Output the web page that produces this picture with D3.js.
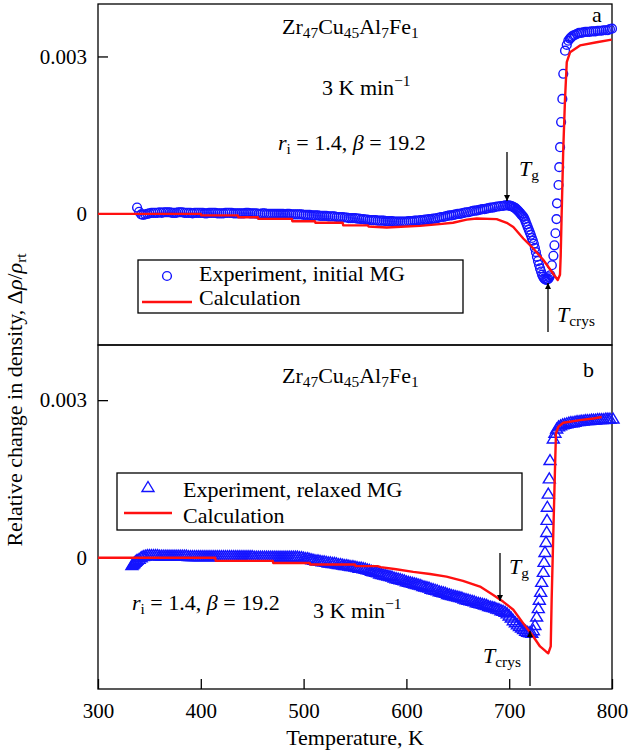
<!DOCTYPE html>
<meta charset="utf-8">
<script src="https://cdn.jsdelivr.net/npm/d3@7"></script>
<style>
  body { margin: 0; background: #fff; }
</style>
<svg id="chart" width="629" height="756"></svg>
<script>
// ---- data (T in K, relative density change) ----
var expInitial = [
  [338,0.00012],[340,0.00004],[342,-0.00001],[344,-0.00002],[346,-0.00001],[348,0],[350,0.00001],[352,0.00002],
  [354,0.00002],[356,0.00002],[358,0.00002],[360,0.00003],[362,0.00002],[364,0.00003],[366,0.00003],[368,0.00003],
  [370,0.00003],[372,0.00002],[374,0.00002],[376,0.00002],[378,0.00003],[380,0.00003],[382,0.00003],[384,0.00002],
  [386,0.00002],[388,0.00002],[390,0.00002],[392,0.00001],[394,0.00002],[396,0.00002],[398,0.00002],[400,0.00002],
  [402,0.00002],[404,0.00001],[406,0.00001],[408,0.00002],[410,0.00002],[412,0.00002],[414,0.00002],[416,0.00001],
  [418,0.00001],[420,0.00001],[422,0.00001],[424,0.00002],[426,0.00002],[428,0.00002],[430,0.00002],[432,0.00001],
  [434,0.00001],[436,0.00001],[438,0.00001],[440,0.00001],[442,0.00001],[444,0.00002],[446,0.00002],[448,0.00001],
  [450,0.00001],[452,0.00001],[454,0.00001],[456,0],[458,0],[460,0.00001],[462,0.00001],[464,0],[466,0],[468,0],
  [470,0],[472,0],[474,0],[476,0],[478,0],[480,0],[482,-0.00001],[484,0],[486,0],[488,-0.00001],[490,-0.00001],
  [492,-0.00001],[494,-0.00001],[496,-0.00001],[498,-0.00001],[500,-0.00002],[502,-0.00002],[504,-0.00002],
  [506,-0.00002],[508,-0.00003],[510,-0.00003],[512,-0.00003],[514,-0.00003],[516,-0.00004],[518,-0.00004],
  [520,-0.00004],[522,-0.00004],[524,-0.00005],[526,-0.00005],[528,-0.00005],[530,-0.00005],[532,-0.00006],
  [534,-0.00006],[536,-0.00006],[538,-0.00006],[540,-0.00007],[542,-0.00007],[544,-0.00008],[546,-0.00008],
  [548,-0.00008],[550,-0.00008],[552,-0.00009],[554,-0.00009],[556,-0.0001],[558,-0.0001],[560,-0.00011],
  [562,-0.00011],[564,-0.00012],[566,-0.00012],[568,-0.00012],[570,-0.00012],[572,-0.00013],[574,-0.00013],
  [576,-0.00013],[578,-0.00013],[580,-0.00014],[582,-0.00014],[584,-0.00014],[586,-0.00014],[588,-0.00015],
  [590,-0.00015],[592,-0.00015],[594,-0.00015],[596,-0.00015],[598,-0.00015],[600,-0.00015],[602,-0.00014],
  [604,-0.00014],[606,-0.00014],[608,-0.00013],[610,-0.00013],[612,-0.00013],[614,-0.00012],[616,-0.00012],
  [618,-0.00011],[620,-0.00011],[622,-0.0001],[624,-0.0001],[626,-0.00009],[628,-0.00009],[630,-0.00008],
  [632,-0.00007],[634,-0.00006],[636,-0.00006],[638,-0.00005],[640,-0.00004],[642,-0.00003],[644,-0.00003],
  [646,-0.00002],[648,-0.00001],[650,0],[652,0],[654,0.00001],[656,0.00002],[658,0.00003],[660,0.00003],
  [662,0.00004],[664,0.00005],[666,0.00006],[668,0.00006],[670,0.00007],[672,0.00008],[674,0.00009],
  [676,0.00009],[678,0.0001],[680,0.00011],[682,0.00012],[684,0.00012],[686,0.00013],[688,0.00014],
  [690,0.00014],[692,0.00015],[694,0.00015],[696,0.00016],[698,0.00016],[700,0.00016],[701,0.00015],
  [702,0.00015],[703,0.00014],[704,0.00013],[705,0.00012],[706,0.00011],[707,0.00009],[708,0.00007],
  [709,0.00005],[710,0.00003],[711,0.00001],[712,-0.00002],[713,-0.00004],[714,-0.00006],[715,-0.0001],
  [716,-0.00015],[717,-0.0002],[718,-0.00025],[719,-0.0003],[720,-0.00035],[721,-0.0004],[722,-0.00046],
  [723,-0.00051],[724,-0.00057],[725,-0.00065],[726,-0.00073],[727,-0.00082],[728,-0.0009],[729,-0.00097],
  [730,-0.00104],[731,-0.0011],[732,-0.00116],[733,-0.0012],[734,-0.00123],[735,-0.00125],[736,-0.00126],
  [737,-0.00125],[738,-0.00124],[739,-0.00121],[740,-0.00117],[741.5,-0.00098],[743,-0.0008],[744,-0.0006],
  [745,-0.00037],[746,-0.0001],[746.5,0.0002],[748,0.00055],[748.7,0.00089],[749.5,0.00127],[750.5,0.00175],
  [751.7,0.00219],[752.6,0.00267],[754.3,0.00311],[756,0.00322],[757.5,0.0033],[759,0.00334],[760,0.00336],
  [761,0.00338],[762.4,0.0034],[764,0.00341],[766,0.00343],[768,0.00345],[770,0.00345],[772,0.00346],
  [774,0.00347],[776,0.00347],[778,0.00347],[780,0.00348],[782,0.00348],[784,0.00348],[786,0.00349],
  [788,0.00349],[790,0.00349],[792,0.0035],[794,0.0035],[796,0.0035],[798,0.00352],[800,0.00353]
];

var calcInitial = [
  [300, 0], [400, 0], [400.5, -0.00003], [436, -0.00003], [436.5, -0.000065], [455.6, -0.000065],
  [456, -0.000095], [488.7, -0.000095], [489, -0.00014], [511, -0.00014], [511.5, -0.00017],
  [538, -0.00017], [538.5, -0.00022], [562.6, -0.00022], [563, -0.00024], [580.8, -0.00026],
  [613.2, -0.00023], [629.5, -0.0002], [645.3, -0.00017], [658.7, -0.00011], [668.4, -0.00009],
  [687.8, -0.0001], [697.6, -0.00017], [704, -0.00025], [713.7, -0.00047], [723.4, -0.00066],
  [733.2, -0.00088], [741.3, -0.0011], [747.2, -0.00126], [749.4, -0.00116], [750.1, -0.0008],
  [751, -0.00003], [752.6, 0.00124], [754.3, 0.00219], [756, 0.00289], [759.2, 0.00308],
  [768.9, 0.00321], [785.1, 0.00327], [799.7, 0.00332]
];

var expRelaxed = [
  [333,-0.00014],[334,-0.00012],[335,-0.0001],[336,-0.00008],[337,-0.00006],[338,-0.00004],[340,-0.00002],
  [342,0.00001],[344,0.00003],[346,0.00004],[348,0.00005],[350,0.00005],[352,0.00005],[354,0.00005],
  [356,0.00005],[358,0.00005],[360,0.00004],[362,0.00004],[364,0.00004],[366,0.00004],[368,0.00004],
  [370,0.00004],[372,0.00004],[374,0.00004],[376,0.00004],[378,0.00004],[380,0.00004],[382,0.00004],
  [384,0.00004],[386,0.00004],[388,0.00003],[390,0.00003],[392,0.00003],[394,0.00003],[396,0.00003],
  [398,0.00003],[400,0.00003],[402,0.00003],[404,0.00003],[406,0.00003],[408,0.00003],[410,0.00003],
  [412,0.00003],[414,0.00003],[416,0.00003],[418,0.00003],[420,0.00003],[422,0.00003],[424,0.00003],
  [426,0.00003],[428,0.00003],[430,0.00003],[432,0.00003],[434,0.00003],[436,0.00003],[438,0.00003],
  [440,0.00003],[442,0.00003],[444,0.00003],[446,0.00003],[448,0.00003],[450,0.00003],[452,0.00002],
  [454,0.00002],[456,0.00002],[458,0.00002],[460,0.00002],[462,0.00002],[464,0.00002],[466,0.00002],
  [468,0.00002],[470,0.00002],[472,0.00002],[474,0.00002],[476,0.00002],[478,0.00002],[480,0.00002],
  [482,0.00002],[484,0.00002],[486,0.00002],[488,0.00002],[490,0.00002],[492,0.00002],[494,0.00002],
  [496,0.00001],[498,0.00001],[500,0],[502,-0.00001],[504,-0.00001],[506,-0.00002],[508,-0.00003],
  [510,-0.00004],[512,-0.00005],[514,-0.00005],[516,-0.00006],[518,-0.00007],[520,-0.00007],[522,-0.00008],
  [524,-0.00009],[526,-0.00009],[528,-0.0001],[530,-0.0001],[532,-0.00011],[534,-0.00012],[536,-0.00012],
  [538,-0.00013],[540,-0.00014],[542,-0.00014],[544,-0.00015],[546,-0.00016],[548,-0.00016],[550,-0.00017],
  [552,-0.00018],[554,-0.00019],[556,-0.00019],[558,-0.0002],[560,-0.00021],[562,-0.00022],[564,-0.00023],
  [566,-0.00025],[568,-0.00026],[570,-0.00027],[572,-0.00028],[574,-0.0003],[576,-0.00031],[578,-0.00032],
  [580,-0.00033],[582,-0.00034],[584,-0.00035],[586,-0.00036],[588,-0.00038],[590,-0.00039],[592,-0.0004],
  [594,-0.00041],[596,-0.00042],[598,-0.00043],[600,-0.00045],[602,-0.00046],[604,-0.00047],[606,-0.00048],
  [608,-0.00049],[610,-0.0005],[612,-0.00051],[614,-0.00052],[616,-0.00054],[618,-0.00055],[620,-0.00056],
  [622,-0.00057],[624,-0.00059],[626,-0.0006],[628,-0.00061],[630,-0.00062],[632,-0.00064],[634,-0.00065],
  [636,-0.00066],[638,-0.00067],[640,-0.00069],[642,-0.0007],[644,-0.00071],[646,-0.00072],[648,-0.00073],
  [650,-0.00074],[652,-0.00075],[654,-0.00076],[656,-0.00078],[658,-0.00079],[660,-0.0008],[662,-0.00081],
  [664,-0.00082],[666,-0.00083],[668,-0.00085],[670,-0.00086],[672,-0.00087],[674,-0.00088],[676,-0.00089],
  [678,-0.0009],[680,-0.00092],[682,-0.00093],[684,-0.00094],[686,-0.00095],[688,-0.00097],[690,-0.00098],
  [692,-0.001],[694,-0.00101],[696,-0.00103],[698,-0.00106],[700,-0.0011],[702,-0.00114],[704,-0.00119],
  [706,-0.00123],[708,-0.00127],[710,-0.0013],[712,-0.00133],[714,-0.00136],[716,-0.00139],[718,-0.00141],
  [720,-0.00142],[722,-0.00143],[723.5,-0.00138],[725,-0.00128],[726.7,-0.00112],[728.3,-0.00096],
  [729.3,-0.0008],[730.6,-0.00065],[731.6,-0.00046],[733.2,-0.00027],[733.9,-0.00008],[734.8,0.00011],
  [735.8,0.0003],[736.5,0.00049],[736.8,0.00072],[737.1,0.00097],[738,0.00122],[739,0.00151],
  [739.7,0.00186],[742.9,0.00227],[744.5,0.00238],[746.2,0.00246],[748,0.0025],[750,0.00252],[752,0.00254],
  [754,0.00255],[756,0.00256],[758,0.00257],[760,0.00258],[762,0.00258],[764,0.00259],[766,0.0026],
  [768,0.0026],[770,0.00261],[772,0.00261],[774,0.00262],[776,0.00262],[778,0.00262],[780,0.00263],
  [782,0.00263],[784,0.00263],[786,0.00264],[788,0.00264],[790,0.00264],[792,0.00264],[794,0.00265],
  [796,0.00265],[798,0.00265],[801,0.00265]
];

var calcRelaxed = [
  [300, 0], [414, 0], [414.5, -0.00006], [470, -0.00006], [470.5, -0.0001], [506, -0.0001],
  [506.5, -0.00013], [550, -0.00013], [550.5, -0.00016], [572, -0.00016], [575, -0.00018],
  [590, -0.00022], [606.7, -0.00027], [623, -0.00031], [639, -0.00036], [655, -0.00044],
  [671.6, -0.00055], [684.5, -0.00071], [694.3, -0.00084], [704, -0.00099], [713.7, -0.00125],
  [723.4, -0.0015], [730, -0.00169], [736, -0.00179], [738, -0.00182], [740.4, -0.00169],
  [741.3, -0.0008], [742.9, 0.00046], [744.6, 0.00173], [745.5, 0.00237], [747.8, 0.00249],
  [752.6, 0.00257], [768.9, 0.00262], [781.8, 0.00265], [790, 0.00268]
];

var xTicks = [300, 400, 500, 600, 700, 800];
var yTicks = [0, 0.003];

var BLUE = "#1414ff", RED = "#ff1010";
var FS = 22, TICK_FS = 21;
var FONT = "Liberation Serif";
var TRI = "M0,-5.5L6,4.5L-6,4.5Z";

var svg = d3.select("#chart");

svg.append("defs").append("marker")
    .attr("id", "head")
    .attr("viewBox", "0 0 10 10")
    .attr("refX", 10).attr("refY", 5)
    .attr("markerWidth", 11).attr("markerHeight", 6)
    .attr("markerUnits", "userSpaceOnUse")
    .attr("orient", "auto")
  .append("path")
    .attr("d", "M0,0L10,5L0,10Z")
    .attr("fill", "#000");

var x = d3.scaleLinear().domain([300, 800]).range([98, 612]);

// text with italic / sub / sup runs
function rich(sel, px, py, parts, size) {
  size = size || FS;
  var t = sel.append("text").attr("x", px).attr("y", py)
      .style("font-family", FONT).style("font-size", size + "px").attr("fill", "#000");
  var shift = 0;
  parts.forEach(function(p) {
    var s = typeof p === "string" ? p : p[0];
    var k = typeof p === "string" ? "" : p[1];
    var ts = t.append("tspan").text(s);
    var target = 0;
    if (k === "sub") { ts.style("font-size", (size * 0.7) + "px"); target = size * 0.2; }
    if (k === "sup") { ts.style("font-size", (size * 0.7) + "px"); target = -size * 0.4; }
    if (k === "i") ts.style("font-style", "italic");
    if (target !== shift) { ts.attr("dy", target - shift); shift = target; }
  });
  return t;
}

function arrow(sel, ax, y1, y2) {
  sel.append("line")
      .attr("x1", ax).attr("x2", ax).attr("y1", y1).attr("y2", y2)
      .attr("stroke", "#000").attr("stroke-width", 1.3)
      .attr("marker-end", "url(#head)");
}

var formula = ["Zr", ["47", "sub"], "Cu", ["45", "sub"], "Al", ["7", "sub"], "Fe", ["1", "sub"]];
var rate = ["3 K min", ["\u22121", "sup"]];
var params = [["r", "i"], ["i", "sub"], " = 1.4, ", ["\u03b2", "i"], " = 19.2"];

function drawPanel(cfg) {
  var y = d3.scaleLinear().domain(cfg.yDomain).range([cfg.bottom, cfg.top]);
  var g = svg.append("g");

  g.append("rect")
      .attr("x", 98).attr("y", cfg.top)
      .attr("width", 612 - 98).attr("height", cfg.bottom - cfg.top)
      .attr("fill", "none").attr("stroke", "#000").attr("stroke-width", 1.3);

  var yAxis = g.append("g")
      .attr("transform", "translate(98,0)")
      .call(d3.axisLeft(y).tickValues(yTicks).tickSize(-10).tickPadding(11)
        .tickFormat(function(d) { return d === 0 ? "0" : d3.format(".3f")(d); }));
  yAxis.select(".domain").remove();
  yAxis.selectAll("line").attr("stroke-width", 1.3);
  yAxis.selectAll("text").style("font-size", TICK_FS + "px").style("font-family", FONT);

  if (cfg.xAxis) {
    var xAxis = g.append("g")
        .attr("transform", "translate(0," + cfg.bottom + ")")
        .call(d3.axisBottom(x).tickValues(xTicks).tickSize(-10).tickPadding(14));
    xAxis.select(".domain").remove();
    xAxis.selectAll("line").attr("stroke-width", 1.3);
    xAxis.selectAll("text").style("font-size", TICK_FS + "px").style("font-family", FONT);
  }

  var line = d3.line().x(function(d) { return x(d[0]); }).y(function(d) { return y(d[1]); });

  // experiment markers
  var pts = g.append("g");
  if (cfg.marker === "circle") {
    pts.selectAll("circle").data(cfg.exp).enter().append("circle")
        .attr("cx", function(d) { return x(d[0]); })
        .attr("cy", function(d) { return y(d[1]); })
        .attr("r", 4.4)
        .attr("fill", "none").attr("stroke", BLUE).attr("stroke-width", 1.4);
  } else {
    pts.selectAll("path").data(cfg.exp).enter().append("path")
        .attr("d", TRI)
        .attr("transform", function(d) { return "translate(" + x(d[0]) + "," + y(d[1]) + ")"; })
        .attr("fill", "none").attr("stroke", BLUE).attr("stroke-width", 1.4);
  }

  g.append("path").datum(cfg.calc)
      .attr("d", line)
      .attr("fill", "none").attr("stroke", RED).attr("stroke-width", 2.4)
      .attr("stroke-linejoin", "round");

  // legend
  var L = cfg.legend;
  g.append("rect")
      .attr("x", L.x).attr("y", L.y).attr("width", L.w).attr("height", L.h)
      .attr("fill", "#fff").attr("stroke", "#000").attr("stroke-width", 1.3);
  if (cfg.marker === "circle") {
    g.append("circle").attr("cx", L.mx).attr("cy", L.my).attr("r", 4.4)
        .attr("fill", "none").attr("stroke", BLUE).attr("stroke-width", 1.4);
  } else {
    g.append("path").attr("d", TRI)
        .attr("transform", "translate(" + L.mx + "," + L.my + ")")
        .attr("fill", "none").attr("stroke", BLUE).attr("stroke-width", 1.4);
  }
  g.append("line").attr("x1", L.lx1).attr("x2", L.lx2).attr("y1", L.ly).attr("y2", L.ly)
      .attr("stroke", RED).attr("stroke-width", 2.4);
  rich(g, L.tx, L.t1, [cfg.label]);
  rich(g, L.tx, L.t2, ["Calculation"]);

  // annotations
  rich(g, 282, cfg.top + cfg.formulaY, formula);
  rich(g, cfg.rate[0], cfg.rate[1], rate);
  rich(g, cfg.params[0], cfg.params[1], params);
  rich(g, cfg.letter[0], cfg.letter[1], [cfg.letter[2]]);

  arrow(g, cfg.tg.ax, cfg.tg.y1, cfg.tg.y2);
  rich(g, cfg.tg.lx, cfg.tg.ly, [["T", "i"], ["g", "sub"]]);
  arrow(g, cfg.tc.ax, cfg.tc.y1, cfg.tc.y2);
  rich(g, cfg.tc.lx, cfg.tc.ly, [["T", "i"], ["crys", "sub"]]);
}

drawPanel({
  top: 4, bottom: 345, yDomain: [-0.0025, 0.004], xAxis: false,
  exp: expInitial, calc: calcInitial, marker: "circle",
  label: "Experiment, initial MG",
  legend: { x: 138, y: 260, w: 325, h: 53, mx: 167, my: 276, lx1: 142, lx2: 192, ly: 302,
            tx: 199, t1: 281, t2: 305 },
  formulaY: 30, rate: [322, 95], params: [278, 150], letter: [592, 22, "a"],
  tg: { ax: 507, y1: 152, y2: 201, lx: 519, ly: 176 },
  tc: { ax: 548, y1: 332, y2: 283, lx: 557, ly: 322 }
});

drawPanel({
  top: 345, bottom: 689, yDomain: [-0.0025, 0.00405], xAxis: true,
  exp: expRelaxed, calc: calcRelaxed, marker: "triangle",
  label: "Experiment, relaxed MG",
  legend: { x: 117, y: 473, w: 405, h: 57, mx: 148, my: 487, lx1: 124, lx2: 172, ly: 513,
            tx: 183, t1: 497, t2: 523 },
  formulaY: 38, rate: [313, 618], params: [132, 610], letter: [583, 377, "b"],
  tg: { ax: 500, y1: 553, y2: 601, lx: 509, ly: 574 },
  tc: { ax: 530, y1: 686, y2: 631, lx: 483, ly: 663 }
});

// axis titles
svg.append("text")
    .attr("x", 355).attr("y", 745)
    .attr("text-anchor", "middle")
    .style("font-family", FONT)
    .style("font-size", FS + "px")
    .text("Temperature, K");

var yl = rich(svg, 0, 0, ["Relative change in density, \u0394", ["\u03c1", "i"], "/", ["\u03c1", "i"], ["rt", "sub"]]);
yl.attr("text-anchor", "middle").attr("transform", "translate(22,400) rotate(-90)");
</script>
